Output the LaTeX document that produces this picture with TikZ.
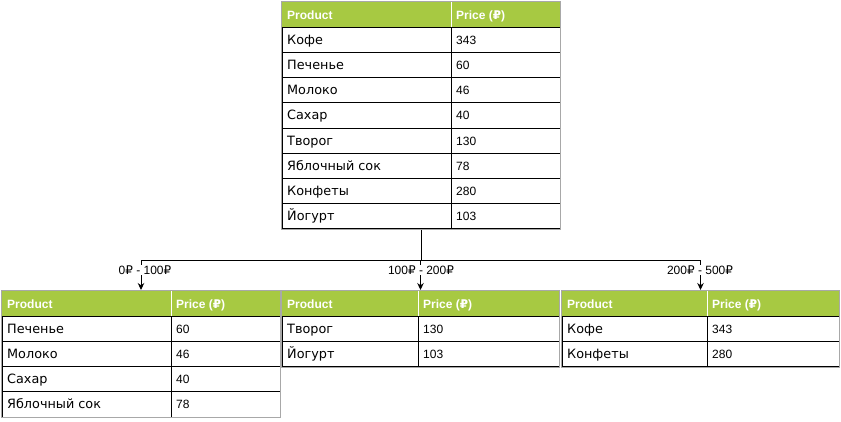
\documentclass[tikz,border=0pt]{standalone}
\usepackage{fontspec}
\setmainfont{Liberation Sans}
\newfontfamily\dvfont{DejaVu Sans}
\newcommand\rub{{\dvfont ₽}}
\usetikzlibrary{arrows.meta,fit}
\definecolor{hdr}{HTML}{A7C942}
\definecolor{frame}{HTML}{A8A8A8}
\tikzset{
  cell/.style={draw=black, line width=1bp},
  hdrtext/.style={anchor=base west, text=white, font=\fontsize{12bp}{14bp}\selectfont\bfseries, inner sep=0},
  celltext/.style={anchor=base west, font=\fontsize{12bp}{14bp}\selectfont, inner sep=0},
  cyrtext/.style={anchor=base west, font=\fontsize{12.8bp}{14bp}\selectfont\dvfont, inner sep=0},
  outerframe/.style={draw=frame, line width=1bp, inner sep=0.5bp},
  link/.style={draw=black, line width=1bp},
  arr/.style={link, -{Stealth[length=7bp,width=6.5bp]}},
  rangelabel/.style={fill=white, inner sep=1bp, font=\fontsize{12bp}{14bp}\selectfont}
}
% #1 name, #2 left, #3 top, #4 right, #5 divider, #6 rows, #7 list
\newcommand\pricetable[7]{%
  \fill[hdr] (#2,#3) rectangle (#4,#3+25.2);
  \draw[white, line width=1bp] (#5,#3) -- (#5,#3+25.2);
  \node[hdrtext] (#1-h1) at (#2+5,#3+17) {Product};
  \node[hdrtext] (#1-h2) at (#5+5,#3+17) {Price ({\dvfont\bfseries ₽})};
  \foreach \p/\v [count=\i] in {#7}{
    \draw[cell] (#2,#3+25.2*\i) rectangle (#5,#3+25.2*\i+25.2);
    \draw[cell] (#5,#3+25.2*\i) rectangle (#4,#3+25.2*\i+25.2);
    \node[cyrtext] at (#2+5,#3+25.2*\i+17) {\p};
    \node[celltext] at (#5+5,#3+25.2*\i+17) {\v};
  }
  \coordinate (#1-nw) at (#2,#3);
  \coordinate (#1-se) at (#4,#3+25.2*#6+25.2);
  \node[outerframe, fit=(#1-nw)(#1-se)] (#1) {};
}
\begin{document}
\begin{tikzpicture}[x=1bp,y=-1bp]
\useasboundingbox (0,0) rectangle (841,421);
\pricetable{top}{282}{2}{560}{451}{8}{Кофе/343, Печенье/60, Молоко/46, Сахар/40, Творог/130, Яблочный сок/78, Конфеты/280, Йогурт/103}
\pricetable{low}{2}{291}{280}{171}{4}{Печенье/60, Молоко/46, Сахар/40, Яблочный сок/78}
\pricetable{mid}{282}{291}{559}{418}{2}{Творог/130, Йогурт/103}
\pricetable{high}{562}{291}{839}{707}{2}{Кофе/343, Конфеты/280}
\coordinate (bus) at (421,260);
\draw[link] (top.south) -- (bus);
\draw[link] (bus -| low.north) -- (bus -| high.north);
\draw[arr] (bus -| low.north) -- (low.north);
\draw[arr] (bus -| mid.north) -- (mid.north);
\draw[arr] (bus -| high.north) -- (high.north);
\node[rangelabel] (l1) at (145,270) {0\rub{} - 100\rub};
\node[rangelabel] (l2) at (421,270) {100\rub{} - 200\rub};
\node[rangelabel] (l3) at (700,270) {200\rub{} - 500\rub};
\end{tikzpicture}
\end{document}
